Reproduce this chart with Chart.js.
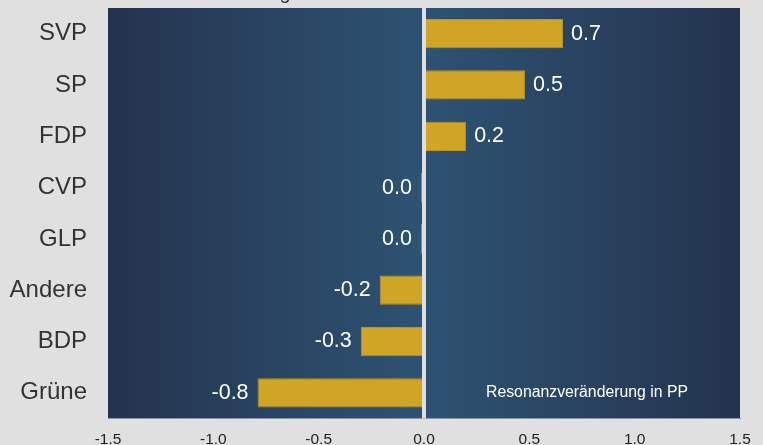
<!DOCTYPE html>
<html>
<head>
<meta charset="utf-8">
<script src="https://cdn.jsdelivr.net/npm/chart.js@4/dist/chart.umd.min.js"></script>
<style>
  html, body { margin:0; padding:0; background:#e0e0e0; }
  #wrap { width:763px; height:445px; position:relative; }
</style>
</head>
<body>
<div id="wrap"><canvas id="chart"></canvas></div>
<script>
// data
const parties = ['SVP', 'SP', 'FDP', 'CVP', 'GLP', 'Andere', 'BDP', 'Grüne'];
const changes = [0.66, 0.48, 0.20, -0.015, -0.015, -0.21, -0.30, -0.79];
const xTicks  = [-1.5, -1.0, -0.5, 0.0, 0.5, 1.0, 1.5];
const note = 'Resonanzveränderung in PP';

const FONT = "'Liberation Sans', Arial, sans-serif";

// format without "-0.0"
function fmt(v){
  const s = v.toFixed(1);
  return s === '-0.0' ? '0.0' : s;
}

// gradient panel behind the bars
const panelBg = {
  id: 'panelBg',
  beforeDraw(chart){
    const { ctx, chartArea:a } = chart;
    const g = ctx.createLinearGradient(a.left, 0, a.right, 0);
    g.addColorStop(0, '#24334e');
    g.addColorStop(0.5, '#2e5373');
    g.addColorStop(1, '#24334e');
    ctx.save();
    ctx.fillStyle = g;
    ctx.fillRect(a.left, a.top, a.right - a.left, a.bottom - a.top);
    // cut-off heading above the plot
    ctx.fillStyle = '#333';
    ctx.font = '20px ' + FONT;
    ctx.textAlign = 'center';
    ctx.textBaseline = 'alphabetic';
    ctx.fillText('g', 285, -1);
    ctx.restore();
  }
};

// zero line, value labels and the note
const overlay = {
  id: 'overlay',
  afterDatasetsDraw(chart){
    const { ctx, chartArea:a, scales:{x, y} } = chart;
    const x0 = x.getPixelForValue(0);
    ctx.save();
    ctx.fillStyle = '#dedede';
    ctx.fillRect(x0 - 2, a.top, 4, a.bottom - a.top);

    ctx.fillStyle = '#ffffff';
    ctx.font = '21.5px ' + FONT;
    ctx.textBaseline = 'middle';
    const meta = chart.getDatasetMeta(0);
    meta.data.forEach((bar, i) => {
      const v = changes[i];
      if (v > 0) {
        ctx.textAlign = 'left';
        ctx.fillText(fmt(v), bar.x + 8, bar.y);
      } else {
        ctx.textAlign = 'right';
        ctx.fillText(fmt(v), Math.min(bar.x, x0 - 2) - 9, bar.y);
      }
    });

    ctx.font = '15.8px ' + FONT;
    ctx.textAlign = 'center';
    ctx.fillText(note, a.right - 153, y.getPixelForValue(parties.length - 1));
    ctx.restore();
  }
};

new Chart(document.getElementById('chart'), {
  type: 'bar',
  data: {
    labels: parties,
    datasets: [{
      data: changes,
      backgroundColor: '#d0a526',
      borderColor: '#b8932a',
      borderWidth: 1,
      borderSkipped: false,
      barPercentage: 0.57,
      categoryPercentage: 1
    }]
  },
  options: {
    indexAxis: 'y',
    responsive: true,
    maintainAspectRatio: false,
    animation: false,
    devicePixelRatio: 1,
    layout: { padding: { top: 8, right: 23, left: 0, bottom: 0 } },
    plugins: {
      legend: { display: false },
      tooltip: { enabled: false }
    },
    scales: {
      x: {
        type: 'linear',
        min: -1.5, max: 1.5,
        afterBuildTicks(s){ s.ticks = xTicks.map(v => ({ value: v })); },
        afterFit(s){ s.height = 26.5; s.paddingLeft = 0; s.paddingRight = 0; },
        grid: { display: false, drawTicks: false },
        border: { display: true, color: '#8796ab', width: 1 },
        ticks: {
          color: '#222',
          font: { family: FONT, size: 15.5 },
          padding: 12,
          maxRotation: 0,
          callback: v => v.toFixed(1)
        }
      },
      y: {
        afterFit(s){ s.width = 108; s.paddingTop = 0; s.paddingBottom = 0; },
        grid: { display: false, drawTicks: false },
        border: { display: false },
        ticks: {
          color: '#333',
          font: { family: FONT, size: 24 },
          padding: 21
        }
      }
    }
  },
  plugins: [panelBg, overlay]
});
</script>
</body>
</html>
